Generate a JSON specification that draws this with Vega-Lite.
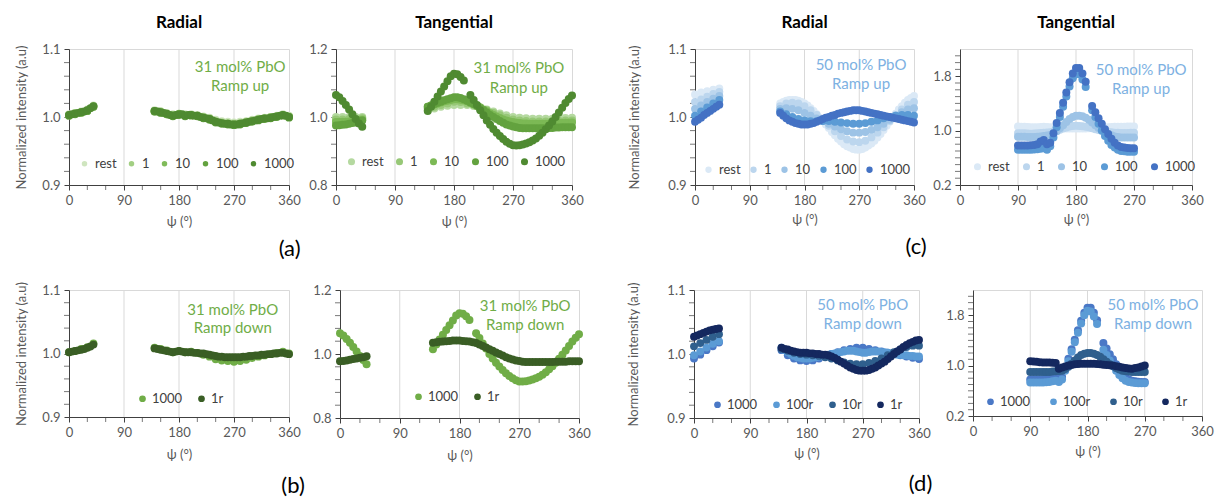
{
"$schema":"https://vega.github.io/schema/vega-lite/v6.json",
"padding":{"left":15,"top":13,"right":2,"bottom":1},
"background":"white",
"config":{
 "font":"Lato",
 "view":{"stroke":"#d9d9d9"},
 "axis":{"domainColor":"#404040","tickColor":"#404040","tickSize":5,"labelPadding":4,"labelColor":"#595959","labelFontSize":13,"titleColor":"#595959","titleFontSize":13,"titleFontWeight":"normal","labelFont":"Lato","titleFont":"Lato","grid":false},
 "legend":{"labelFont":"Lato","labelColor":"#404040","labelFontSize":13,"symbolStrokeWidth":0},
 "rule":{"color":"#d9d9d9","strokeWidth":1},
 "tick":{"color":"#404040","thickness":1}
},
"datasets":{
"grid":[{"g":90},{"g":180},{"g":270}],
"mx":[{"m":30},{"m":60},{"m":120},{"m":150},{"m":210},{"m":240},{"m":300},{"m":330}],
"yr":[{"v":0.92},{"v":0.94},{"v":0.96},{"v":0.98},{"v":1.02},{"v":1.04},{"v":1.06},{"v":1.08}],
"ya":[{"v":0.84},{"v":0.88},{"v":0.92},{"v":0.96},{"v":1.04},{"v":1.08},{"v":1.12},{"v":1.16}],
"yc":[{"v":0.3},{"v":0.4},{"v":0.5},{"v":0.6},{"v":0.7},{"v":0.8},{"v":0.9},{"v":1.1},{"v":1.2},{"v":1.3},{"v":1.4},{"v":1.5},{"v":1.6},{"v":1.7},{"v":1.9},{"v":2.0},{"v":2.1}],
"a1":[
{"s":"rest","x":0,"y":1.004},{"s":"rest","x":10,"y":1.006},{"s":"rest","x":20,"y":1.008},{"s":"rest","x":30,"y":1.011},{"s":"rest","x":40,"y":1.017},{"s":"rest","x":140,"y":1.01},{"s":"rest","x":150,"y":1.008},{"s":"rest","x":160,"y":1.006},{"s":"rest","x":170,"y":1.004},{"s":"rest","x":180,"y":1.005},{"s":"rest","x":190,"y":1.004},{"s":"rest","x":200,"y":1.004},{"s":"rest","x":210,"y":1.003},{"s":"rest","x":220,"y":1.001},{"s":"rest","x":230,"y":0.999},{"s":"rest","x":240,"y":0.996},{"s":"rest","x":250,"y":0.994},{"s":"rest","x":260,"y":0.993},{"s":"rest","x":270,"y":0.992},{"s":"rest","x":280,"y":0.993},{"s":"rest","x":290,"y":0.994},{"s":"rest","x":300,"y":0.996},{"s":"rest","x":310,"y":0.998},{"s":"rest","x":320,"y":0.999},{"s":"rest","x":330,"y":1.0},{"s":"rest","x":340,"y":1.002},{"s":"rest","x":350,"y":1.004},{"s":"rest","x":360,"y":1.002},
{"s":"1","x":0,"y":1.003},{"s":"1","x":10,"y":1.006},{"s":"1","x":20,"y":1.007},{"s":"1","x":30,"y":1.01},{"s":"1","x":40,"y":1.016},{"s":"1","x":140,"y":1.009},{"s":"1","x":150,"y":1.008},{"s":"1","x":160,"y":1.005},{"s":"1","x":170,"y":1.003},{"s":"1","x":180,"y":1.005},{"s":"1","x":190,"y":1.003},{"s":"1","x":200,"y":1.003},{"s":"1","x":210,"y":1.002},{"s":"1","x":220,"y":1.0},{"s":"1","x":230,"y":0.998},{"s":"1","x":240,"y":0.994},{"s":"1","x":250,"y":0.992},{"s":"1","x":260,"y":0.991},{"s":"1","x":270,"y":0.99},{"s":"1","x":280,"y":0.991},{"s":"1","x":290,"y":0.993},{"s":"1","x":300,"y":0.995},{"s":"1","x":310,"y":0.997},{"s":"1","x":320,"y":0.998},{"s":"1","x":330,"y":1.0},{"s":"1","x":340,"y":1.001},{"s":"1","x":350,"y":1.003},{"s":"1","x":360,"y":1.001},
{"s":"10","x":0,"y":1.002},{"s":"10","x":10,"y":1.005},{"s":"10","x":20,"y":1.006},{"s":"10","x":30,"y":1.009},{"s":"10","x":40,"y":1.015},{"s":"10","x":140,"y":1.008},{"s":"10","x":150,"y":1.007},{"s":"10","x":160,"y":1.004},{"s":"10","x":170,"y":1.002},{"s":"10","x":180,"y":1.004},{"s":"10","x":190,"y":1.002},{"s":"10","x":200,"y":1.003},{"s":"10","x":210,"y":1.002},{"s":"10","x":220,"y":0.999},{"s":"10","x":230,"y":0.997},{"s":"10","x":240,"y":0.993},{"s":"10","x":250,"y":0.991},{"s":"10","x":260,"y":0.99},{"s":"10","x":270,"y":0.989},{"s":"10","x":280,"y":0.99},{"s":"10","x":290,"y":0.992},{"s":"10","x":300,"y":0.994},{"s":"10","x":310,"y":0.996},{"s":"10","x":320,"y":0.998},{"s":"10","x":330,"y":0.999},{"s":"10","x":340,"y":1.001},{"s":"10","x":350,"y":1.003},{"s":"10","x":360,"y":1.0},
{"s":"100","x":0,"y":1.002},{"s":"100","x":10,"y":1.004},{"s":"100","x":20,"y":1.007},{"s":"100","x":30,"y":1.009},{"s":"100","x":40,"y":1.015},{"s":"100","x":140,"y":1.008},{"s":"100","x":150,"y":1.006},{"s":"100","x":160,"y":1.004},{"s":"100","x":170,"y":1.001},{"s":"100","x":180,"y":1.003},{"s":"100","x":190,"y":1.001},{"s":"100","x":200,"y":1.002},{"s":"100","x":210,"y":1.001},{"s":"100","x":220,"y":0.998},{"s":"100","x":230,"y":0.996},{"s":"100","x":240,"y":0.992},{"s":"100","x":250,"y":0.99},{"s":"100","x":260,"y":0.989},{"s":"100","x":270,"y":0.988},{"s":"100","x":280,"y":0.989},{"s":"100","x":290,"y":0.991},{"s":"100","x":300,"y":0.993},{"s":"100","x":310,"y":0.995},{"s":"100","x":320,"y":0.997},{"s":"100","x":330,"y":0.998},{"s":"100","x":340,"y":1.0},{"s":"100","x":350,"y":1.002},{"s":"100","x":360,"y":0.999},
{"s":"1000","x":0,"y":1.003},{"s":"1000","x":5,"y":1.004},{"s":"1000","x":10,"y":1.005},{"s":"1000","x":15,"y":1.006},{"s":"1000","x":20,"y":1.007},{"s":"1000","x":25,"y":1.008},{"s":"1000","x":30,"y":1.01},{"s":"1000","x":35,"y":1.013},{"s":"1000","x":40,"y":1.016},{"s":"1000","x":140,"y":1.009},{"s":"1000","x":145,"y":1.008},{"s":"1000","x":150,"y":1.007},{"s":"1000","x":155,"y":1.006},{"s":"1000","x":160,"y":1.005},{"s":"1000","x":165,"y":1.003},{"s":"1000","x":170,"y":1.002},{"s":"1000","x":175,"y":1.003},{"s":"1000","x":180,"y":1.004},{"s":"1000","x":185,"y":1.004},{"s":"1000","x":190,"y":1.002},{"s":"1000","x":195,"y":1.003},{"s":"1000","x":200,"y":1.003},{"s":"1000","x":205,"y":1.002},{"s":"1000","x":210,"y":1.002},{"s":"1000","x":215,"y":1.0},{"s":"1000","x":220,"y":0.999},{"s":"1000","x":225,"y":0.998},{"s":"1000","x":230,"y":0.997},{"s":"1000","x":235,"y":0.995},{"s":"1000","x":240,"y":0.993},{"s":"1000","x":245,"y":0.992},{"s":"1000","x":250,"y":0.991},{"s":"1000","x":255,"y":0.99},{"s":"1000","x":260,"y":0.99},{"s":"1000","x":265,"y":0.989},{"s":"1000","x":270,"y":0.989},{"s":"1000","x":275,"y":0.989},{"s":"1000","x":280,"y":0.99},{"s":"1000","x":285,"y":0.991},{"s":"1000","x":290,"y":0.992},{"s":"1000","x":295,"y":0.993},{"s":"1000","x":300,"y":0.994},{"s":"1000","x":305,"y":0.995},{"s":"1000","x":310,"y":0.996},{"s":"1000","x":315,"y":0.997},{"s":"1000","x":320,"y":0.998},{"s":"1000","x":325,"y":0.998},{"s":"1000","x":330,"y":0.999},{"s":"1000","x":335,"y":1.0},{"s":"1000","x":340,"y":1.001},{"s":"1000","x":345,"y":1.002},{"s":"1000","x":350,"y":1.003},{"s":"1000","x":355,"y":1.002},{"s":"1000","x":360,"y":1.0}
],
"a2":[
{"s":"rest","x":0,"y":1.0},{"s":"rest","x":10,"y":1.0},{"s":"rest","x":20,"y":1.0},{"s":"rest","x":30,"y":1.0},{"s":"rest","x":40,"y":1.0},{"s":"rest","x":140,"y":1.02},{"s":"rest","x":150,"y":1.025},{"s":"rest","x":160,"y":1.03},{"s":"rest","x":170,"y":1.033},{"s":"rest","x":180,"y":1.035},{"s":"rest","x":190,"y":1.035},{"s":"rest","x":200,"y":1.035},{"s":"rest","x":210,"y":1.032},{"s":"rest","x":220,"y":1.028},{"s":"rest","x":230,"y":1.022},{"s":"rest","x":240,"y":1.016},{"s":"rest","x":250,"y":1.01},{"s":"rest","x":260,"y":1.005},{"s":"rest","x":270,"y":1.0},{"s":"rest","x":280,"y":0.998},{"s":"rest","x":290,"y":0.996},{"s":"rest","x":300,"y":0.995},{"s":"rest","x":310,"y":0.995},{"s":"rest","x":320,"y":0.995},{"s":"rest","x":330,"y":0.995},{"s":"rest","x":340,"y":0.996},{"s":"rest","x":350,"y":0.997},{"s":"rest","x":360,"y":0.998},
{"s":"1","x":0,"y":0.993},{"s":"1","x":10,"y":0.993},{"s":"1","x":20,"y":0.994},{"s":"1","x":30,"y":0.995},{"s":"1","x":40,"y":0.996},{"s":"1","x":140,"y":1.025},{"s":"1","x":150,"y":1.03},{"s":"1","x":160,"y":1.035},{"s":"1","x":170,"y":1.04},{"s":"1","x":180,"y":1.045},{"s":"1","x":190,"y":1.044},{"s":"1","x":200,"y":1.04},{"s":"1","x":210,"y":1.035},{"s":"1","x":220,"y":1.028},{"s":"1","x":230,"y":1.02},{"s":"1","x":240,"y":1.012},{"s":"1","x":250,"y":1.005},{"s":"1","x":260,"y":0.998},{"s":"1","x":270,"y":0.993},{"s":"1","x":280,"y":0.99},{"s":"1","x":290,"y":0.988},{"s":"1","x":300,"y":0.987},{"s":"1","x":310,"y":0.987},{"s":"1","x":320,"y":0.987},{"s":"1","x":330,"y":0.988},{"s":"1","x":340,"y":0.989},{"s":"1","x":350,"y":0.99},{"s":"1","x":360,"y":0.99},
{"s":"10","x":0,"y":0.985},{"s":"10","x":5,"y":0.985},{"s":"10","x":10,"y":0.986},{"s":"10","x":15,"y":0.986},{"s":"10","x":20,"y":0.987},{"s":"10","x":25,"y":0.988},{"s":"10","x":30,"y":0.99},{"s":"10","x":35,"y":0.991},{"s":"10","x":40,"y":0.992},{"s":"10","x":140,"y":1.03},{"s":"10","x":145,"y":1.034},{"s":"10","x":150,"y":1.037},{"s":"10","x":155,"y":1.04},{"s":"10","x":160,"y":1.043},{"s":"10","x":165,"y":1.046},{"s":"10","x":170,"y":1.048},{"s":"10","x":175,"y":1.05},{"s":"10","x":180,"y":1.052},{"s":"10","x":185,"y":1.052},{"s":"10","x":190,"y":1.051},{"s":"10","x":195,"y":1.049},{"s":"10","x":200,"y":1.046},{"s":"10","x":205,"y":1.042},{"s":"10","x":210,"y":1.038},{"s":"10","x":215,"y":1.033},{"s":"10","x":220,"y":1.028},{"s":"10","x":225,"y":1.022},{"s":"10","x":230,"y":1.017},{"s":"10","x":235,"y":1.011},{"s":"10","x":240,"y":1.006},{"s":"10","x":245,"y":1.001},{"s":"10","x":250,"y":0.997},{"s":"10","x":255,"y":0.993},{"s":"10","x":260,"y":0.99},{"s":"10","x":265,"y":0.987},{"s":"10","x":270,"y":0.985},{"s":"10","x":275,"y":0.983},{"s":"10","x":280,"y":0.982},{"s":"10","x":285,"y":0.981},{"s":"10","x":290,"y":0.981},{"s":"10","x":295,"y":0.98},{"s":"10","x":300,"y":0.98},{"s":"10","x":305,"y":0.98},{"s":"10","x":310,"y":0.98},{"s":"10","x":315,"y":0.98},{"s":"10","x":320,"y":0.98},{"s":"10","x":325,"y":0.98},{"s":"10","x":330,"y":0.981},{"s":"10","x":335,"y":0.981},{"s":"10","x":340,"y":0.982},{"s":"10","x":345,"y":0.982},{"s":"10","x":350,"y":0.983},{"s":"10","x":355,"y":0.983},{"s":"10","x":360,"y":0.984},
{"s":"100","x":0,"y":0.975},{"s":"100","x":5,"y":0.976},{"s":"100","x":10,"y":0.977},{"s":"100","x":15,"y":0.978},{"s":"100","x":20,"y":0.98},{"s":"100","x":25,"y":0.982},{"s":"100","x":30,"y":0.984},{"s":"100","x":35,"y":0.987},{"s":"100","x":40,"y":0.99},{"s":"100","x":140,"y":1.03},{"s":"100","x":145,"y":1.034},{"s":"100","x":150,"y":1.038},{"s":"100","x":155,"y":1.042},{"s":"100","x":160,"y":1.045},{"s":"100","x":165,"y":1.049},{"s":"100","x":170,"y":1.052},{"s":"100","x":175,"y":1.055},{"s":"100","x":180,"y":1.058},{"s":"100","x":185,"y":1.058},{"s":"100","x":190,"y":1.056},{"s":"100","x":195,"y":1.052},{"s":"100","x":200,"y":1.048},{"s":"100","x":205,"y":1.043},{"s":"100","x":210,"y":1.038},{"s":"100","x":215,"y":1.032},{"s":"100","x":220,"y":1.026},{"s":"100","x":225,"y":1.02},{"s":"100","x":230,"y":1.013},{"s":"100","x":235,"y":1.006},{"s":"100","x":240,"y":1.0},{"s":"100","x":245,"y":0.994},{"s":"100","x":250,"y":0.988},{"s":"100","x":255,"y":0.983},{"s":"100","x":260,"y":0.978},{"s":"100","x":265,"y":0.975},{"s":"100","x":270,"y":0.972},{"s":"100","x":275,"y":0.97},{"s":"100","x":280,"y":0.968},{"s":"100","x":285,"y":0.967},{"s":"100","x":290,"y":0.967},{"s":"100","x":295,"y":0.967},{"s":"100","x":300,"y":0.967},{"s":"100","x":305,"y":0.967},{"s":"100","x":310,"y":0.967},{"s":"100","x":315,"y":0.967},{"s":"100","x":320,"y":0.967},{"s":"100","x":325,"y":0.968},{"s":"100","x":330,"y":0.968},{"s":"100","x":335,"y":0.969},{"s":"100","x":340,"y":0.969},{"s":"100","x":345,"y":0.97},{"s":"100","x":350,"y":0.97},{"s":"100","x":355,"y":0.97},{"s":"100","x":360,"y":0.97},
{"s":"1000","x":0,"y":1.065},{"s":"1000","x":5,"y":1.058},{"s":"1000","x":10,"y":1.047},{"s":"1000","x":15,"y":1.035},{"s":"1000","x":20,"y":1.022},{"s":"1000","x":25,"y":1.008},{"s":"1000","x":30,"y":0.994},{"s":"1000","x":35,"y":0.981},{"s":"1000","x":40,"y":0.971},{"s":"1000","x":140,"y":1.018},{"s":"1000","x":145,"y":1.03},{"s":"1000","x":150,"y":1.045},{"s":"1000","x":155,"y":1.06},{"s":"1000","x":160,"y":1.075},{"s":"1000","x":165,"y":1.09},{"s":"1000","x":170,"y":1.105},{"s":"1000","x":175,"y":1.12},{"s":"1000","x":180,"y":1.127},{"s":"1000","x":185,"y":1.126},{"s":"1000","x":190,"y":1.118},{"s":"1000","x":195,"y":1.107},{"s":"1000","x":205,"y":1.065},{"s":"1000","x":210,"y":1.05},{"s":"1000","x":215,"y":1.035},{"s":"1000","x":220,"y":1.02},{"s":"1000","x":225,"y":1.005},{"s":"1000","x":230,"y":0.99},{"s":"1000","x":235,"y":0.977},{"s":"1000","x":240,"y":0.965},{"s":"1000","x":245,"y":0.954},{"s":"1000","x":250,"y":0.944},{"s":"1000","x":255,"y":0.935},{"s":"1000","x":260,"y":0.927},{"s":"1000","x":265,"y":0.921},{"s":"1000","x":270,"y":0.917},{"s":"1000","x":275,"y":0.916},{"s":"1000","x":280,"y":0.917},{"s":"1000","x":285,"y":0.919},{"s":"1000","x":290,"y":0.922},{"s":"1000","x":295,"y":0.926},{"s":"1000","x":300,"y":0.931},{"s":"1000","x":305,"y":0.937},{"s":"1000","x":310,"y":0.945},{"s":"1000","x":315,"y":0.954},{"s":"1000","x":320,"y":0.964},{"s":"1000","x":325,"y":0.975},{"s":"1000","x":330,"y":0.987},{"s":"1000","x":335,"y":1.0},{"s":"1000","x":340,"y":1.013},{"s":"1000","x":345,"y":1.027},{"s":"1000","x":350,"y":1.041},{"s":"1000","x":355,"y":1.053},{"s":"1000","x":360,"y":1.063}
],
"b1":[
{"s":"1000","x":0,"y":1.002},{"s":"1000","x":10,"y":1.004},{"s":"1000","x":20,"y":1.007},{"s":"1000","x":30,"y":1.01},{"s":"1000","x":40,"y":1.016},{"s":"1000","x":140,"y":1.009},{"s":"1000","x":150,"y":1.007},{"s":"1000","x":160,"y":1.005},{"s":"1000","x":170,"y":1.002},{"s":"1000","x":180,"y":1.004},{"s":"1000","x":190,"y":1.002},{"s":"1000","x":200,"y":1.003},{"s":"1000","x":210,"y":1.001},{"s":"1000","x":220,"y":0.998},{"s":"1000","x":230,"y":0.995},{"s":"1000","x":240,"y":0.991},{"s":"1000","x":250,"y":0.989},{"s":"1000","x":260,"y":0.988},{"s":"1000","x":270,"y":0.987},{"s":"1000","x":280,"y":0.988},{"s":"1000","x":290,"y":0.99},{"s":"1000","x":300,"y":0.993},{"s":"1000","x":310,"y":0.995},{"s":"1000","x":320,"y":0.997},{"s":"1000","x":330,"y":0.999},{"s":"1000","x":340,"y":1.001},{"s":"1000","x":350,"y":1.003},{"s":"1000","x":360,"y":1.0},
{"s":"1r","x":0,"y":1.002},{"s":"1r","x":5,"y":1.003},{"s":"1r","x":10,"y":1.004},{"s":"1r","x":15,"y":1.005},{"s":"1r","x":20,"y":1.006},{"s":"1r","x":25,"y":1.007},{"s":"1r","x":30,"y":1.009},{"s":"1r","x":35,"y":1.011},{"s":"1r","x":40,"y":1.014},{"s":"1r","x":140,"y":1.008},{"s":"1r","x":145,"y":1.007},{"s":"1r","x":150,"y":1.006},{"s":"1r","x":155,"y":1.005},{"s":"1r","x":160,"y":1.004},{"s":"1r","x":165,"y":1.003},{"s":"1r","x":170,"y":1.002},{"s":"1r","x":175,"y":1.003},{"s":"1r","x":180,"y":1.004},{"s":"1r","x":185,"y":1.003},{"s":"1r","x":190,"y":1.002},{"s":"1r","x":195,"y":1.002},{"s":"1r","x":200,"y":1.002},{"s":"1r","x":205,"y":1.001},{"s":"1r","x":210,"y":1.001},{"s":"1r","x":215,"y":1.0},{"s":"1r","x":220,"y":1.0},{"s":"1r","x":225,"y":0.999},{"s":"1r","x":230,"y":0.998},{"s":"1r","x":235,"y":0.997},{"s":"1r","x":240,"y":0.996},{"s":"1r","x":245,"y":0.995},{"s":"1r","x":250,"y":0.995},{"s":"1r","x":255,"y":0.994},{"s":"1r","x":260,"y":0.994},{"s":"1r","x":265,"y":0.994},{"s":"1r","x":270,"y":0.994},{"s":"1r","x":275,"y":0.994},{"s":"1r","x":280,"y":0.994},{"s":"1r","x":285,"y":0.995},{"s":"1r","x":290,"y":0.995},{"s":"1r","x":295,"y":0.996},{"s":"1r","x":300,"y":0.996},{"s":"1r","x":305,"y":0.997},{"s":"1r","x":310,"y":0.997},{"s":"1r","x":315,"y":0.998},{"s":"1r","x":320,"y":0.998},{"s":"1r","x":325,"y":0.999},{"s":"1r","x":330,"y":0.999},{"s":"1r","x":335,"y":1.0},{"s":"1r","x":340,"y":1.0},{"s":"1r","x":345,"y":1.001},{"s":"1r","x":350,"y":1.001},{"s":"1r","x":355,"y":1.0},{"s":"1r","x":360,"y":0.999}
],
"b2":[
{"s":"1000","x":0,"y":1.065},{"s":"1000","x":5,"y":1.058},{"s":"1000","x":10,"y":1.047},{"s":"1000","x":15,"y":1.035},{"s":"1000","x":20,"y":1.022},{"s":"1000","x":25,"y":1.008},{"s":"1000","x":30,"y":0.994},{"s":"1000","x":35,"y":0.981},{"s":"1000","x":40,"y":0.968},{"s":"1000","x":140,"y":1.015},{"s":"1000","x":145,"y":1.03},{"s":"1000","x":150,"y":1.045},{"s":"1000","x":155,"y":1.06},{"s":"1000","x":160,"y":1.075},{"s":"1000","x":165,"y":1.09},{"s":"1000","x":170,"y":1.105},{"s":"1000","x":175,"y":1.12},{"s":"1000","x":180,"y":1.127},{"s":"1000","x":185,"y":1.126},{"s":"1000","x":190,"y":1.118},{"s":"1000","x":195,"y":1.106},{"s":"1000","x":205,"y":1.065},{"s":"1000","x":210,"y":1.05},{"s":"1000","x":215,"y":1.033},{"s":"1000","x":220,"y":1.017},{"s":"1000","x":225,"y":1.0},{"s":"1000","x":230,"y":0.986},{"s":"1000","x":235,"y":0.973},{"s":"1000","x":240,"y":0.961},{"s":"1000","x":245,"y":0.95},{"s":"1000","x":250,"y":0.94},{"s":"1000","x":255,"y":0.931},{"s":"1000","x":260,"y":0.924},{"s":"1000","x":265,"y":0.918},{"s":"1000","x":270,"y":0.914},{"s":"1000","x":275,"y":0.914},{"s":"1000","x":280,"y":0.915},{"s":"1000","x":285,"y":0.917},{"s":"1000","x":290,"y":0.92},{"s":"1000","x":295,"y":0.924},{"s":"1000","x":300,"y":0.929},{"s":"1000","x":305,"y":0.935},{"s":"1000","x":310,"y":0.943},{"s":"1000","x":315,"y":0.952},{"s":"1000","x":320,"y":0.962},{"s":"1000","x":325,"y":0.973},{"s":"1000","x":330,"y":0.985},{"s":"1000","x":335,"y":0.998},{"s":"1000","x":340,"y":1.011},{"s":"1000","x":345,"y":1.025},{"s":"1000","x":350,"y":1.039},{"s":"1000","x":355,"y":1.051},{"s":"1000","x":360,"y":1.062},
{"s":"1r","x":0,"y":0.977},{"s":"1r","x":5,"y":0.978},{"s":"1r","x":10,"y":0.98},{"s":"1r","x":15,"y":0.982},{"s":"1r","x":20,"y":0.984},{"s":"1r","x":25,"y":0.986},{"s":"1r","x":30,"y":0.988},{"s":"1r","x":35,"y":0.99},{"s":"1r","x":40,"y":0.993},{"s":"1r","x":140,"y":1.035},{"s":"1r","x":145,"y":1.037},{"s":"1r","x":150,"y":1.038},{"s":"1r","x":155,"y":1.039},{"s":"1r","x":160,"y":1.04},{"s":"1r","x":165,"y":1.041},{"s":"1r","x":170,"y":1.042},{"s":"1r","x":175,"y":1.042},{"s":"1r","x":180,"y":1.042},{"s":"1r","x":185,"y":1.041},{"s":"1r","x":190,"y":1.04},{"s":"1r","x":195,"y":1.039},{"s":"1r","x":200,"y":1.037},{"s":"1r","x":205,"y":1.034},{"s":"1r","x":210,"y":1.03},{"s":"1r","x":215,"y":1.025},{"s":"1r","x":220,"y":1.02},{"s":"1r","x":225,"y":1.015},{"s":"1r","x":230,"y":1.01},{"s":"1r","x":235,"y":1.005},{"s":"1r","x":240,"y":1.0},{"s":"1r","x":245,"y":0.995},{"s":"1r","x":250,"y":0.99},{"s":"1r","x":255,"y":0.986},{"s":"1r","x":260,"y":0.983},{"s":"1r","x":265,"y":0.98},{"s":"1r","x":270,"y":0.978},{"s":"1r","x":275,"y":0.976},{"s":"1r","x":280,"y":0.975},{"s":"1r","x":285,"y":0.975},{"s":"1r","x":290,"y":0.975},{"s":"1r","x":295,"y":0.975},{"s":"1r","x":300,"y":0.975},{"s":"1r","x":305,"y":0.975},{"s":"1r","x":310,"y":0.975},{"s":"1r","x":315,"y":0.975},{"s":"1r","x":320,"y":0.975},{"s":"1r","x":325,"y":0.976},{"s":"1r","x":330,"y":0.976},{"s":"1r","x":335,"y":0.976},{"s":"1r","x":340,"y":0.976},{"s":"1r","x":345,"y":0.977},{"s":"1r","x":350,"y":0.977},{"s":"1r","x":355,"y":0.977},{"s":"1r","x":360,"y":0.977}
],
"c1":[
{"s":"rest","x":0,"y":1.033},{"s":"rest","x":10,"y":1.036},{"s":"rest","x":20,"y":1.038},{"s":"rest","x":30,"y":1.04},{"s":"rest","x":40,"y":1.042},{"s":"rest","x":140,"y":1.02},{"s":"rest","x":145,"y":1.022},{"s":"rest","x":150,"y":1.024},{"s":"rest","x":155,"y":1.025},{"s":"rest","x":160,"y":1.025},{"s":"rest","x":165,"y":1.025},{"s":"rest","x":170,"y":1.024},{"s":"rest","x":175,"y":1.022},{"s":"rest","x":180,"y":1.02},{"s":"rest","x":185,"y":1.017},{"s":"rest","x":190,"y":1.013},{"s":"rest","x":195,"y":1.009},{"s":"rest","x":200,"y":1.004},{"s":"rest","x":205,"y":0.999},{"s":"rest","x":210,"y":0.994},{"s":"rest","x":215,"y":0.989},{"s":"rest","x":220,"y":0.984},{"s":"rest","x":225,"y":0.978},{"s":"rest","x":230,"y":0.973},{"s":"rest","x":235,"y":0.968},{"s":"rest","x":240,"y":0.964},{"s":"rest","x":245,"y":0.96},{"s":"rest","x":250,"y":0.957},{"s":"rest","x":255,"y":0.955},{"s":"rest","x":260,"y":0.953},{"s":"rest","x":265,"y":0.952},{"s":"rest","x":270,"y":0.952},{"s":"rest","x":275,"y":0.953},{"s":"rest","x":280,"y":0.955},{"s":"rest","x":285,"y":0.958},{"s":"rest","x":290,"y":0.961},{"s":"rest","x":295,"y":0.965},{"s":"rest","x":300,"y":0.97},{"s":"rest","x":305,"y":0.975},{"s":"rest","x":310,"y":0.981},{"s":"rest","x":315,"y":0.987},{"s":"rest","x":320,"y":0.993},{"s":"rest","x":325,"y":0.999},{"s":"rest","x":330,"y":1.005},{"s":"rest","x":335,"y":1.011},{"s":"rest","x":340,"y":1.016},{"s":"rest","x":345,"y":1.021},{"s":"rest","x":350,"y":1.025},{"s":"rest","x":355,"y":1.028},{"s":"rest","x":360,"y":1.031},
{"s":"1","x":0,"y":1.022},{"s":"1","x":10,"y":1.026},{"s":"1","x":20,"y":1.03},{"s":"1","x":30,"y":1.034},{"s":"1","x":40,"y":1.037},{"s":"1","x":140,"y":1.016},{"s":"1","x":150,"y":1.02},{"s":"1","x":160,"y":1.021},{"s":"1","x":170,"y":1.02},{"s":"1","x":180,"y":1.016},{"s":"1","x":190,"y":1.01},{"s":"1","x":200,"y":1.003},{"s":"1","x":210,"y":0.995},{"s":"1","x":220,"y":0.987},{"s":"1","x":230,"y":0.979},{"s":"1","x":240,"y":0.972},{"s":"1","x":250,"y":0.967},{"s":"1","x":260,"y":0.964},{"s":"1","x":270,"y":0.963},{"s":"1","x":280,"y":0.965},{"s":"1","x":290,"y":0.97},{"s":"1","x":300,"y":0.977},{"s":"1","x":310,"y":0.985},{"s":"1","x":320,"y":0.994},{"s":"1","x":330,"y":1.003},{"s":"1","x":340,"y":1.011},{"s":"1","x":350,"y":1.018},{"s":"1","x":360,"y":1.022},
{"s":"10","x":0,"y":1.012},{"s":"10","x":10,"y":1.017},{"s":"10","x":20,"y":1.022},{"s":"10","x":30,"y":1.027},{"s":"10","x":40,"y":1.031},{"s":"10","x":140,"y":1.012},{"s":"10","x":150,"y":1.013},{"s":"10","x":160,"y":1.012},{"s":"10","x":170,"y":1.01},{"s":"10","x":180,"y":1.006},{"s":"10","x":190,"y":1.002},{"s":"10","x":200,"y":0.998},{"s":"10","x":210,"y":0.994},{"s":"10","x":220,"y":0.99},{"s":"10","x":230,"y":0.986},{"s":"10","x":240,"y":0.982},{"s":"10","x":250,"y":0.979},{"s":"10","x":260,"y":0.977},{"s":"10","x":270,"y":0.977},{"s":"10","x":280,"y":0.978},{"s":"10","x":290,"y":0.981},{"s":"10","x":300,"y":0.985},{"s":"10","x":310,"y":0.99},{"s":"10","x":320,"y":0.996},{"s":"10","x":330,"y":1.002},{"s":"10","x":340,"y":1.007},{"s":"10","x":350,"y":1.011},{"s":"10","x":360,"y":1.013},
{"s":"100","x":0,"y":1.002},{"s":"100","x":10,"y":1.008},{"s":"100","x":20,"y":1.014},{"s":"100","x":30,"y":1.02},{"s":"100","x":40,"y":1.025},{"s":"100","x":140,"y":1.008},{"s":"100","x":150,"y":1.004},{"s":"100","x":160,"y":1.0},{"s":"100","x":170,"y":0.997},{"s":"100","x":180,"y":0.995},{"s":"100","x":190,"y":0.994},{"s":"100","x":200,"y":0.994},{"s":"100","x":210,"y":0.994},{"s":"100","x":220,"y":0.994},{"s":"100","x":230,"y":0.993},{"s":"100","x":240,"y":0.992},{"s":"100","x":250,"y":0.991},{"s":"100","x":260,"y":0.99},{"s":"100","x":270,"y":0.99},{"s":"100","x":280,"y":0.991},{"s":"100","x":290,"y":0.993},{"s":"100","x":300,"y":0.995},{"s":"100","x":310,"y":0.998},{"s":"100","x":320,"y":1.0},{"s":"100","x":330,"y":1.002},{"s":"100","x":340,"y":1.003},{"s":"100","x":350,"y":1.003},{"s":"100","x":360,"y":1.002},
{"s":"1000","x":0,"y":0.993},{"s":"1000","x":5,"y":0.996},{"s":"1000","x":10,"y":0.999},{"s":"1000","x":15,"y":1.003},{"s":"1000","x":20,"y":1.006},{"s":"1000","x":25,"y":1.009},{"s":"1000","x":30,"y":1.012},{"s":"1000","x":35,"y":1.015},{"s":"1000","x":40,"y":1.018},{"s":"1000","x":140,"y":1.006},{"s":"1000","x":145,"y":1.002},{"s":"1000","x":150,"y":0.998},{"s":"1000","x":155,"y":0.995},{"s":"1000","x":160,"y":0.993},{"s":"1000","x":165,"y":0.991},{"s":"1000","x":170,"y":0.99},{"s":"1000","x":175,"y":0.989},{"s":"1000","x":180,"y":0.989},{"s":"1000","x":185,"y":0.989},{"s":"1000","x":190,"y":0.99},{"s":"1000","x":195,"y":0.991},{"s":"1000","x":200,"y":0.993},{"s":"1000","x":205,"y":0.995},{"s":"1000","x":210,"y":0.997},{"s":"1000","x":215,"y":0.999},{"s":"1000","x":220,"y":1.0},{"s":"1000","x":225,"y":1.002},{"s":"1000","x":230,"y":1.003},{"s":"1000","x":235,"y":1.005},{"s":"1000","x":240,"y":1.006},{"s":"1000","x":245,"y":1.007},{"s":"1000","x":250,"y":1.008},{"s":"1000","x":255,"y":1.009},{"s":"1000","x":260,"y":1.01},{"s":"1000","x":265,"y":1.01},{"s":"1000","x":270,"y":1.01},{"s":"1000","x":275,"y":1.009},{"s":"1000","x":280,"y":1.008},{"s":"1000","x":285,"y":1.007},{"s":"1000","x":290,"y":1.006},{"s":"1000","x":295,"y":1.005},{"s":"1000","x":300,"y":1.004},{"s":"1000","x":305,"y":1.003},{"s":"1000","x":310,"y":1.002},{"s":"1000","x":315,"y":1.001},{"s":"1000","x":320,"y":1.0},{"s":"1000","x":325,"y":0.999},{"s":"1000","x":330,"y":0.998},{"s":"1000","x":335,"y":0.997},{"s":"1000","x":340,"y":0.996},{"s":"1000","x":345,"y":0.995},{"s":"1000","x":350,"y":0.994},{"s":"1000","x":355,"y":0.993},{"s":"1000","x":360,"y":0.992}
],
"c2":[
{"s":"rest","x":90,"y":1.06},{"s":"rest","x":95,"y":1.058},{"s":"rest","x":100,"y":1.055},{"s":"rest","x":105,"y":1.052},{"s":"rest","x":110,"y":1.05},{"s":"rest","x":115,"y":1.05},{"s":"rest","x":120,"y":1.05},{"s":"rest","x":125,"y":1.052},{"s":"rest","x":130,"y":1.055},{"s":"rest","x":135,"y":1.052},{"s":"rest","x":140,"y":1.05},{"s":"rest","x":145,"y":1.045},{"s":"rest","x":150,"y":1.04},{"s":"rest","x":155,"y":1.037},{"s":"rest","x":160,"y":1.035},{"s":"rest","x":165,"y":1.032},{"s":"rest","x":170,"y":1.03},{"s":"rest","x":175,"y":1.03},{"s":"rest","x":180,"y":1.03},{"s":"rest","x":185,"y":1.03},{"s":"rest","x":190,"y":1.03},{"s":"rest","x":195,"y":1.032},{"s":"rest","x":200,"y":1.035},{"s":"rest","x":205,"y":1.037},{"s":"rest","x":210,"y":1.04},{"s":"rest","x":215,"y":1.042},{"s":"rest","x":220,"y":1.045},{"s":"rest","x":225,"y":1.047},{"s":"rest","x":230,"y":1.05},{"s":"rest","x":235,"y":1.052},{"s":"rest","x":240,"y":1.055},{"s":"rest","x":245,"y":1.055},{"s":"rest","x":250,"y":1.055},{"s":"rest","x":255,"y":1.058},{"s":"rest","x":260,"y":1.06},{"s":"rest","x":265,"y":1.06},{"s":"rest","x":270,"y":1.06},
{"s":"1","x":90,"y":0.96},{"s":"1","x":95,"y":0.96},{"s":"1","x":100,"y":0.96},{"s":"1","x":105,"y":0.958},{"s":"1","x":110,"y":0.955},{"s":"1","x":115,"y":0.957},{"s":"1","x":120,"y":0.96},{"s":"1","x":125,"y":0.965},{"s":"1","x":130,"y":0.97},{"s":"1","x":135,"y":0.972},{"s":"1","x":140,"y":0.975},{"s":"1","x":145,"y":0.985},{"s":"1","x":150,"y":0.995},{"s":"1","x":155,"y":1.012},{"s":"1","x":160,"y":1.03},{"s":"1","x":165,"y":1.045},{"s":"1","x":170,"y":1.06},{"s":"1","x":175,"y":1.066},{"s":"1","x":180,"y":1.07},{"s":"1","x":185,"y":1.068},{"s":"1","x":190,"y":1.065},{"s":"1","x":195,"y":1.058},{"s":"1","x":200,"y":1.05},{"s":"1","x":205,"y":1.035},{"s":"1","x":210,"y":1.02},{"s":"1","x":215,"y":1.008},{"s":"1","x":220,"y":0.995},{"s":"1","x":225,"y":0.988},{"s":"1","x":230,"y":0.98},{"s":"1","x":235,"y":0.975},{"s":"1","x":240,"y":0.97},{"s":"1","x":245,"y":0.967},{"s":"1","x":250,"y":0.965},{"s":"1","x":255,"y":0.965},{"s":"1","x":260,"y":0.965},{"s":"1","x":265,"y":0.967},{"s":"1","x":270,"y":0.97},
{"s":"10","x":90,"y":0.91},{"s":"10","x":95,"y":0.91},{"s":"10","x":100,"y":0.91},{"s":"10","x":105,"y":0.907},{"s":"10","x":110,"y":0.905},{"s":"10","x":115,"y":0.907},{"s":"10","x":120,"y":0.91},{"s":"10","x":125,"y":0.915},{"s":"10","x":130,"y":0.92},{"s":"10","x":135,"y":0.927},{"s":"10","x":140,"y":0.935},{"s":"10","x":145,"y":0.96},{"s":"10","x":150,"y":0.99},{"s":"10","x":155,"y":1.035},{"s":"10","x":160,"y":1.08},{"s":"10","x":165,"y":1.125},{"s":"10","x":170,"y":1.17},{"s":"10","x":175,"y":1.2},{"s":"10","x":180,"y":1.22},{"s":"10","x":185,"y":1.218},{"s":"10","x":190,"y":1.21},{"s":"10","x":195,"y":1.19},{"s":"10","x":200,"y":1.16},{"s":"10","x":205,"y":1.12},{"s":"10","x":210,"y":1.08},{"s":"10","x":215,"y":1.04},{"s":"10","x":220,"y":1.0},{"s":"10","x":225,"y":0.97},{"s":"10","x":230,"y":0.945},{"s":"10","x":235,"y":0.93},{"s":"10","x":240,"y":0.915},{"s":"10","x":245,"y":0.907},{"s":"10","x":250,"y":0.9},{"s":"10","x":255,"y":0.9},{"s":"10","x":260,"y":0.9},{"s":"10","x":265,"y":0.9},{"s":"10","x":270,"y":0.9},
{"s":"100","x":90,"y":0.72},{"s":"100","x":95,"y":0.72},{"s":"100","x":100,"y":0.72},{"s":"100","x":105,"y":0.72},{"s":"100","x":110,"y":0.72},{"s":"100","x":115,"y":0.722},{"s":"100","x":120,"y":0.725},{"s":"100","x":125,"y":0.732},{"s":"100","x":130,"y":0.74},{"s":"100","x":135,"y":0.72},{"s":"100","x":140,"y":0.77},{"s":"100","x":145,"y":0.9},{"s":"100","x":150,"y":1.05},{"s":"100","x":155,"y":1.2},{"s":"100","x":160,"y":1.35},{"s":"100","x":165,"y":1.5},{"s":"100","x":170,"y":1.65},{"s":"100","x":175,"y":1.77},{"s":"100","x":180,"y":1.83},{"s":"100","x":185,"y":1.83},{"s":"100","x":190,"y":1.75},{"s":"100","x":195,"y":1.64},{"s":"100","x":205,"y":1.3},{"s":"100","x":210,"y":1.2},{"s":"100","x":215,"y":1.1},{"s":"100","x":220,"y":1.0},{"s":"100","x":225,"y":0.92},{"s":"100","x":230,"y":0.85},{"s":"100","x":235,"y":0.79},{"s":"100","x":240,"y":0.75},{"s":"100","x":245,"y":0.72},{"s":"100","x":250,"y":0.7},{"s":"100","x":255,"y":0.695},{"s":"100","x":260,"y":0.69},{"s":"100","x":265,"y":0.69},{"s":"100","x":270,"y":0.69},
{"s":"1000","x":90,"y":0.78},{"s":"1000","x":95,"y":0.78},{"s":"1000","x":100,"y":0.78},{"s":"1000","x":105,"y":0.78},{"s":"1000","x":110,"y":0.785},{"s":"1000","x":115,"y":0.79},{"s":"1000","x":120,"y":0.8},{"s":"1000","x":125,"y":0.84},{"s":"1000","x":130,"y":0.86},{"s":"1000","x":135,"y":0.8},{"s":"1000","x":140,"y":0.82},{"s":"1000","x":145,"y":0.96},{"s":"1000","x":150,"y":1.11},{"s":"1000","x":155,"y":1.26},{"s":"1000","x":160,"y":1.41},{"s":"1000","x":165,"y":1.56},{"s":"1000","x":170,"y":1.71},{"s":"1000","x":175,"y":1.84},{"s":"1000","x":180,"y":1.92},{"s":"1000","x":185,"y":1.92},{"s":"1000","x":190,"y":1.84},{"s":"1000","x":195,"y":1.72},{"s":"1000","x":205,"y":1.36},{"s":"1000","x":210,"y":1.27},{"s":"1000","x":215,"y":1.18},{"s":"1000","x":220,"y":1.1},{"s":"1000","x":225,"y":1.02},{"s":"1000","x":230,"y":0.95},{"s":"1000","x":235,"y":0.88},{"s":"1000","x":240,"y":0.82},{"s":"1000","x":245,"y":0.78},{"s":"1000","x":250,"y":0.76},{"s":"1000","x":255,"y":0.75},{"s":"1000","x":260,"y":0.745},{"s":"1000","x":265,"y":0.74},{"s":"1000","x":270,"y":0.74}
],
"d1":[
{"s":"1000","x":0,"y":0.993},{"s":"1000","x":10,"y":0.999},{"s":"1000","x":20,"y":1.006},{"s":"1000","x":30,"y":1.012},{"s":"1000","x":40,"y":1.018},{"s":"1000","x":140,"y":1.006},{"s":"1000","x":150,"y":0.998},{"s":"1000","x":160,"y":0.993},{"s":"1000","x":170,"y":0.99},{"s":"1000","x":180,"y":0.989},{"s":"1000","x":190,"y":0.99},{"s":"1000","x":200,"y":0.993},{"s":"1000","x":210,"y":0.997},{"s":"1000","x":220,"y":1.0},{"s":"1000","x":230,"y":1.003},{"s":"1000","x":240,"y":1.006},{"s":"1000","x":250,"y":1.008},{"s":"1000","x":260,"y":1.01},{"s":"1000","x":270,"y":1.01},{"s":"1000","x":280,"y":1.008},{"s":"1000","x":290,"y":1.006},{"s":"1000","x":300,"y":1.004},{"s":"1000","x":310,"y":1.002},{"s":"1000","x":320,"y":1.0},{"s":"1000","x":330,"y":0.998},{"s":"1000","x":340,"y":0.996},{"s":"1000","x":350,"y":0.994},{"s":"1000","x":360,"y":0.992},
{"s":"100r","x":0,"y":0.998},{"s":"100r","x":10,"y":1.004},{"s":"100r","x":20,"y":1.01},{"s":"100r","x":30,"y":1.016},{"s":"100r","x":40,"y":1.02},{"s":"100r","x":140,"y":1.01},{"s":"100r","x":145,"y":1.006},{"s":"100r","x":150,"y":1.003},{"s":"100r","x":155,"y":1.0},{"s":"100r","x":160,"y":0.997},{"s":"100r","x":165,"y":0.995},{"s":"100r","x":170,"y":0.994},{"s":"100r","x":175,"y":0.993},{"s":"100r","x":180,"y":0.993},{"s":"100r","x":185,"y":0.993},{"s":"100r","x":190,"y":0.994},{"s":"100r","x":195,"y":0.995},{"s":"100r","x":200,"y":0.996},{"s":"100r","x":205,"y":0.997},{"s":"100r","x":210,"y":0.998},{"s":"100r","x":215,"y":0.999},{"s":"100r","x":220,"y":1.0},{"s":"100r","x":225,"y":1.001},{"s":"100r","x":230,"y":1.002},{"s":"100r","x":235,"y":1.003},{"s":"100r","x":240,"y":1.004},{"s":"100r","x":245,"y":1.005},{"s":"100r","x":250,"y":1.005},{"s":"100r","x":255,"y":1.005},{"s":"100r","x":260,"y":1.004},{"s":"100r","x":265,"y":1.003},{"s":"100r","x":270,"y":1.002},{"s":"100r","x":275,"y":1.002},{"s":"100r","x":280,"y":1.003},{"s":"100r","x":285,"y":1.004},{"s":"100r","x":290,"y":1.004},{"s":"100r","x":295,"y":1.004},{"s":"100r","x":300,"y":1.003},{"s":"100r","x":305,"y":1.003},{"s":"100r","x":310,"y":1.002},{"s":"100r","x":315,"y":1.001},{"s":"100r","x":320,"y":1.0},{"s":"100r","x":325,"y":0.999},{"s":"100r","x":330,"y":0.999},{"s":"100r","x":335,"y":0.998},{"s":"100r","x":340,"y":0.998},{"s":"100r","x":345,"y":0.997},{"s":"100r","x":350,"y":0.997},{"s":"100r","x":355,"y":0.996},{"s":"100r","x":360,"y":0.996},
{"s":"10r","x":0,"y":1.012},{"s":"10r","x":10,"y":1.017},{"s":"10r","x":20,"y":1.022},{"s":"10r","x":30,"y":1.027},{"s":"10r","x":40,"y":1.031},{"s":"10r","x":140,"y":1.008},{"s":"10r","x":150,"y":1.005},{"s":"10r","x":160,"y":1.002},{"s":"10r","x":170,"y":1.0},{"s":"10r","x":180,"y":0.999},{"s":"10r","x":190,"y":0.998},{"s":"10r","x":200,"y":0.997},{"s":"10r","x":210,"y":0.995},{"s":"10r","x":220,"y":0.993},{"s":"10r","x":230,"y":0.99},{"s":"10r","x":240,"y":0.987},{"s":"10r","x":250,"y":0.985},{"s":"10r","x":260,"y":0.984},{"s":"10r","x":270,"y":0.984},{"s":"10r","x":280,"y":0.986},{"s":"10r","x":290,"y":0.989},{"s":"10r","x":300,"y":0.993},{"s":"10r","x":310,"y":0.998},{"s":"10r","x":320,"y":1.003},{"s":"10r","x":330,"y":1.007},{"s":"10r","x":340,"y":1.011},{"s":"10r","x":350,"y":1.013},{"s":"10r","x":360,"y":1.013},
{"s":"1r","x":0,"y":1.027},{"s":"1r","x":5,"y":1.029},{"s":"1r","x":10,"y":1.031},{"s":"1r","x":15,"y":1.033},{"s":"1r","x":20,"y":1.035},{"s":"1r","x":25,"y":1.037},{"s":"1r","x":30,"y":1.038},{"s":"1r","x":35,"y":1.039},{"s":"1r","x":40,"y":1.04},{"s":"1r","x":140,"y":1.01},{"s":"1r","x":145,"y":1.008},{"s":"1r","x":150,"y":1.007},{"s":"1r","x":155,"y":1.005},{"s":"1r","x":160,"y":1.004},{"s":"1r","x":165,"y":1.003},{"s":"1r","x":170,"y":1.002},{"s":"1r","x":175,"y":1.002},{"s":"1r","x":180,"y":1.002},{"s":"1r","x":185,"y":1.001},{"s":"1r","x":190,"y":1.001},{"s":"1r","x":195,"y":1.0},{"s":"1r","x":200,"y":1.0},{"s":"1r","x":205,"y":0.999},{"s":"1r","x":210,"y":0.999},{"s":"1r","x":215,"y":0.998},{"s":"1r","x":220,"y":0.996},{"s":"1r","x":225,"y":0.994},{"s":"1r","x":230,"y":0.991},{"s":"1r","x":235,"y":0.988},{"s":"1r","x":240,"y":0.985},{"s":"1r","x":245,"y":0.982},{"s":"1r","x":250,"y":0.979},{"s":"1r","x":255,"y":0.977},{"s":"1r","x":260,"y":0.975},{"s":"1r","x":265,"y":0.974},{"s":"1r","x":270,"y":0.974},{"s":"1r","x":275,"y":0.974},{"s":"1r","x":280,"y":0.975},{"s":"1r","x":285,"y":0.977},{"s":"1r","x":290,"y":0.979},{"s":"1r","x":295,"y":0.982},{"s":"1r","x":300,"y":0.985},{"s":"1r","x":305,"y":0.988},{"s":"1r","x":310,"y":0.992},{"s":"1r","x":315,"y":0.996},{"s":"1r","x":320,"y":1.0},{"s":"1r","x":325,"y":1.004},{"s":"1r","x":330,"y":1.007},{"s":"1r","x":335,"y":1.011},{"s":"1r","x":340,"y":1.014},{"s":"1r","x":345,"y":1.017},{"s":"1r","x":350,"y":1.019},{"s":"1r","x":355,"y":1.021},{"s":"1r","x":360,"y":1.022}
],
"d2":[
{"s":"1000","x":90,"y":0.78},{"s":"1000","x":95,"y":0.78},{"s":"1000","x":100,"y":0.78},{"s":"1000","x":105,"y":0.78},{"s":"1000","x":110,"y":0.785},{"s":"1000","x":115,"y":0.79},{"s":"1000","x":120,"y":0.8},{"s":"1000","x":125,"y":0.84},{"s":"1000","x":130,"y":0.86},{"s":"1000","x":135,"y":0.8},{"s":"1000","x":140,"y":0.82},{"s":"1000","x":145,"y":0.96},{"s":"1000","x":150,"y":1.11},{"s":"1000","x":155,"y":1.26},{"s":"1000","x":160,"y":1.41},{"s":"1000","x":165,"y":1.56},{"s":"1000","x":170,"y":1.71},{"s":"1000","x":175,"y":1.84},{"s":"1000","x":180,"y":1.92},{"s":"1000","x":185,"y":1.92},{"s":"1000","x":190,"y":1.84},{"s":"1000","x":195,"y":1.72},{"s":"1000","x":205,"y":1.36},{"s":"1000","x":210,"y":1.27},{"s":"1000","x":215,"y":1.18},{"s":"1000","x":220,"y":1.1},{"s":"1000","x":225,"y":1.02},{"s":"1000","x":230,"y":0.95},{"s":"1000","x":235,"y":0.88},{"s":"1000","x":240,"y":0.82},{"s":"1000","x":245,"y":0.78},{"s":"1000","x":250,"y":0.76},{"s":"1000","x":255,"y":0.75},{"s":"1000","x":260,"y":0.745},{"s":"1000","x":265,"y":0.74},{"s":"1000","x":270,"y":0.74},
{"s":"100r","x":90,"y":0.73},{"s":"100r","x":95,"y":0.73},{"s":"100r","x":100,"y":0.73},{"s":"100r","x":105,"y":0.73},{"s":"100r","x":110,"y":0.73},{"s":"100r","x":115,"y":0.735},{"s":"100r","x":120,"y":0.74},{"s":"100r","x":125,"y":0.75},{"s":"100r","x":130,"y":0.76},{"s":"100r","x":135,"y":0.74},{"s":"100r","x":140,"y":0.78},{"s":"100r","x":145,"y":0.92},{"s":"100r","x":150,"y":1.07},{"s":"100r","x":155,"y":1.22},{"s":"100r","x":160,"y":1.37},{"s":"100r","x":165,"y":1.52},{"s":"100r","x":170,"y":1.67},{"s":"100r","x":175,"y":1.8},{"s":"100r","x":180,"y":1.87},{"s":"100r","x":185,"y":1.86},{"s":"100r","x":190,"y":1.78},{"s":"100r","x":195,"y":1.66},{"s":"100r","x":205,"y":1.25},{"s":"100r","x":210,"y":1.17},{"s":"100r","x":215,"y":1.08},{"s":"100r","x":220,"y":1.0},{"s":"100r","x":225,"y":0.92},{"s":"100r","x":230,"y":0.85},{"s":"100r","x":235,"y":0.8},{"s":"100r","x":240,"y":0.76},{"s":"100r","x":245,"y":0.74},{"s":"100r","x":250,"y":0.73},{"s":"100r","x":255,"y":0.725},{"s":"100r","x":260,"y":0.72},{"s":"100r","x":265,"y":0.72},{"s":"100r","x":270,"y":0.72},
{"s":"10r","x":90,"y":0.9},{"s":"10r","x":95,"y":0.9},{"s":"10r","x":100,"y":0.9},{"s":"10r","x":105,"y":0.9},{"s":"10r","x":110,"y":0.9},{"s":"10r","x":115,"y":0.9},{"s":"10r","x":120,"y":0.9},{"s":"10r","x":125,"y":0.905},{"s":"10r","x":130,"y":0.91},{"s":"10r","x":135,"y":0.915},{"s":"10r","x":140,"y":0.92},{"s":"10r","x":145,"y":0.945},{"s":"10r","x":150,"y":0.98},{"s":"10r","x":155,"y":1.03},{"s":"10r","x":160,"y":1.08},{"s":"10r","x":165,"y":1.13},{"s":"10r","x":170,"y":1.17},{"s":"10r","x":175,"y":1.19},{"s":"10r","x":180,"y":1.2},{"s":"10r","x":185,"y":1.2},{"s":"10r","x":190,"y":1.19},{"s":"10r","x":195,"y":1.17},{"s":"10r","x":200,"y":1.14},{"s":"10r","x":205,"y":1.1},{"s":"10r","x":210,"y":1.06},{"s":"10r","x":215,"y":1.02},{"s":"10r","x":220,"y":0.99},{"s":"10r","x":225,"y":0.96},{"s":"10r","x":230,"y":0.94},{"s":"10r","x":235,"y":0.92},{"s":"10r","x":240,"y":0.91},{"s":"10r","x":245,"y":0.905},{"s":"10r","x":250,"y":0.9},{"s":"10r","x":255,"y":0.9},{"s":"10r","x":260,"y":0.9},{"s":"10r","x":265,"y":0.9},{"s":"10r","x":270,"y":0.9},
{"s":"1r","x":90,"y":1.07},{"s":"1r","x":95,"y":1.065},{"s":"1r","x":100,"y":1.06},{"s":"1r","x":105,"y":1.055},{"s":"1r","x":110,"y":1.05},{"s":"1r","x":115,"y":1.05},{"s":"1r","x":120,"y":1.05},{"s":"1r","x":125,"y":1.045},{"s":"1r","x":130,"y":1.04},{"s":"1r","x":135,"y":0.95},{"s":"1r","x":140,"y":0.97},{"s":"1r","x":145,"y":0.985},{"s":"1r","x":150,"y":1.0},{"s":"1r","x":155,"y":1.01},{"s":"1r","x":160,"y":1.02},{"s":"1r","x":165,"y":1.025},{"s":"1r","x":170,"y":1.03},{"s":"1r","x":175,"y":1.03},{"s":"1r","x":180,"y":1.03},{"s":"1r","x":185,"y":1.03},{"s":"1r","x":190,"y":1.03},{"s":"1r","x":195,"y":1.025},{"s":"1r","x":200,"y":1.02},{"s":"1r","x":205,"y":1.015},{"s":"1r","x":210,"y":1.01},{"s":"1r","x":215,"y":1.005},{"s":"1r","x":220,"y":1.0},{"s":"1r","x":225,"y":0.99},{"s":"1r","x":230,"y":0.98},{"s":"1r","x":235,"y":0.97},{"s":"1r","x":240,"y":0.96},{"s":"1r","x":245,"y":0.955},{"s":"1r","x":250,"y":0.95},{"s":"1r","x":255,"y":0.96},{"s":"1r","x":260,"y":0.97},{"s":"1r","x":265,"y":0.985},{"s":"1r","x":270,"y":1.0}
]
},
"spacing":20,
"resolve":{"scale":{"color":"independent"},"legend":{"color":"independent"}},
"vconcat":[
{"spacing":44,"resolve":{"scale":{"color":"independent"},"legend":{"color":"independent"}},
 "hconcat":[
 {"title":{"text":"(a)","orient":"bottom","anchor":"middle","fontSize":22,"fontWeight":"normal","color":"#000000","offset":10,"dx":-10},
  "spacing":7,"resolve":{"scale":{"color":"independent"},"legend":{"color":"independent"}},
  "hconcat":[
  {"width":220,"height":136,"title":{"text":"Radial","fontSize":17,"fontWeight":"bold","color":"#000000","offset":11,"frame":"group"},
   "layer":[
    {"data":{"name":"grid"},"mark":{"type":"rule"},"encoding":{"x":{"field":"g","type":"quantitative"}}},
    {"data":{"name":"mx"},"mark":{"type":"tick","orient":"vertical","size":5,"yOffset":2.5},"encoding":{"x":{"field":"m","type":"quantitative"},"y":{"datum":0.9,"type":"quantitative"}}},
    {"data":{"name":"yr"},"mark":{"type":"tick","orient":"horizontal","size":5,"xOffset":-2.5},"encoding":{"y":{"field":"v","type":"quantitative"},"x":{"datum":0,"type":"quantitative"}}},
    {"data":{"name":"a1"},"mark":{"type":"circle","size":62,"opacity":1},
     "encoding":{
      "x":{"field":"x","type":"quantitative","scale":{"domain":[0,360],"nice":false},"axis":{"values":[0,90,180,270,360],"title":"ψ (°)","labelFlush":false,"titlePadding":8}},
      "y":{"field":"y","type":"quantitative","scale":{"domain":[0.9,1.1],"nice":false,"zero":false},"axis":{"values":[0.9,1,1.1],"format":".1f","title":"Normalized intensity (a.u)","titlePadding":13}},
      "color":{"field":"s","type":"nominal","scale":{"domain":["rest","1","10","100","1000"],"range":["#cfe5bf","#a2cf83","#80bb5a","#63a23f","#4f8a31"]},"legend":{"orient":"none","legendX":9,"legendY":108,"direction":"horizontal","title":null,"symbolSize":30,"columnPadding":8,"labelOffset":4}}}},
    {"data":{"values":[{"x":280,"y":1.074,"t":"31 mol% PbO"},{"x":280,"y":1.045,"t":"Ramp up"}]},"mark":{"type":"text","fontSize":15,"color":"#70ad47"},
     "encoding":{"x":{"field":"x","type":"quantitative"},"y":{"field":"y","type":"quantitative"},"text":{"field":"t"}}}
   ]},
  {"width":236,"height":136,"title":{"text":"Tangential","fontSize":17,"fontWeight":"bold","color":"#000000","offset":11,"frame":"group"},
   "layer":[
    {"data":{"name":"grid"},"mark":{"type":"rule"},"encoding":{"x":{"field":"g","type":"quantitative"}}},
    {"data":{"name":"mx"},"mark":{"type":"tick","orient":"vertical","size":5,"yOffset":2.5},"encoding":{"x":{"field":"m","type":"quantitative"},"y":{"datum":0.8,"type":"quantitative"}}},
    {"data":{"name":"ya"},"mark":{"type":"tick","orient":"horizontal","size":5,"xOffset":-2.5},"encoding":{"y":{"field":"v","type":"quantitative"},"x":{"datum":0,"type":"quantitative"}}},
    {"data":{"name":"a2"},"mark":{"type":"circle","size":64,"opacity":1},
     "encoding":{
      "x":{"field":"x","type":"quantitative","scale":{"domain":[0,360],"nice":false},"axis":{"values":[0,90,180,270,360],"title":"ψ  (°)","labelFlush":false,"titlePadding":8}},
      "y":{"field":"y","type":"quantitative","scale":{"domain":[0.8,1.2],"nice":false,"zero":false},"axis":{"values":[0.8,1,1.2],"format":".1f","title":null}},
      "color":{"field":"s","type":"nominal","scale":{"domain":["rest","1","10","100","1000"],"range":["#b5d9a0","#97c877","#7cb955","#63a23f","#4f8a31"]},"legend":{"orient":"none","legendX":9,"legendY":106,"direction":"horizontal","title":null,"symbolSize":50,"columnPadding":9,"labelOffset":4}}}},
    {"data":{"values":[{"x":279,"y":1.143,"t":"31 mol% PbO"},{"x":279,"y":1.084,"t":"Ramp up"}]},"mark":{"type":"text","fontSize":15,"color":"#70ad47"},
     "encoding":{"x":{"field":"x","type":"quantitative"},"y":{"field":"y","type":"quantitative"},"text":{"field":"t"}}}
   ]}
  ]},
 {"title":{"text":"(c)","orient":"bottom","anchor":"middle","fontSize":22,"fontWeight":"normal","color":"#000000","offset":10},
  "spacing":6,"resolve":{"scale":{"color":"independent"},"legend":{"color":"independent"}},
  "hconcat":[
  {"width":219,"height":136,"title":{"text":"Radial","fontSize":17,"fontWeight":"bold","color":"#000000","offset":11,"frame":"group"},
   "layer":[
    {"data":{"name":"grid"},"mark":{"type":"rule"},"encoding":{"x":{"field":"g","type":"quantitative"}}},
    {"data":{"name":"mx"},"mark":{"type":"tick","orient":"vertical","size":5,"yOffset":2.5},"encoding":{"x":{"field":"m","type":"quantitative"},"y":{"datum":0.9,"type":"quantitative"}}},
    {"data":{"name":"yr"},"mark":{"type":"tick","orient":"horizontal","size":5,"xOffset":-2.5},"encoding":{"y":{"field":"v","type":"quantitative"},"x":{"datum":0,"type":"quantitative"}}},
    {"data":{"name":"c1"},"mark":{"type":"circle","size":62,"opacity":1},
     "encoding":{
      "x":{"field":"x","type":"quantitative","scale":{"domain":[0,360],"nice":false},"axis":{"values":[0,90,180,270,360],"title":"ψ (°)","labelFlush":false,"titlePadding":6}},
      "y":{"field":"y","type":"quantitative","scale":{"domain":[0.9,1.1],"nice":false,"zero":false},"axis":{"values":[0.9,1,1.1],"format":".1f","title":"Normalized intensity (a.u)","titlePadding":26}},
      "color":{"field":"s","type":"nominal","scale":{"domain":["rest","1","10","100","1000"],"range":["#dbe9f6","#bcd6ee","#9dc3e6","#5b9bd5","#4472c4"]},"legend":{"orient":"none","legendX":7,"legendY":114,"direction":"horizontal","title":null,"symbolSize":40,"columnPadding":6,"labelOffset":4}}}},
    {"data":{"values":[{"x":273,"y":1.076,"t":"50 mol% PbO"},{"x":273,"y":1.048,"t":"Ramp up"}]},"mark":{"type":"text","fontSize":15,"color":"#7db1e2"},
     "encoding":{"x":{"field":"x","type":"quantitative"},"y":{"field":"y","type":"quantitative"},"text":{"field":"t"}}}
   ]},
  {"width":232,"height":136,"title":{"text":"Tangential","fontSize":17,"fontWeight":"bold","color":"#000000","offset":17,"frame":"group"},
   "layer":[
    {"data":{"name":"grid"},"mark":{"type":"rule"},"encoding":{"x":{"field":"g","type":"quantitative"}}},
    {"data":{"name":"mx"},"mark":{"type":"tick","orient":"vertical","size":5,"yOffset":2.5},"encoding":{"x":{"field":"m","type":"quantitative"},"y":{"datum":0.2,"type":"quantitative"}}},
    {"data":{"name":"yc"},"mark":{"type":"tick","orient":"horizontal","size":5,"xOffset":-2.5},"encoding":{"y":{"field":"v","type":"quantitative"},"x":{"datum":0,"type":"quantitative"}}},
    {"data":{"name":"c2"},"mark":{"type":"circle","size":64,"opacity":1},
     "encoding":{
      "x":{"field":"x","type":"quantitative","scale":{"domain":[0,360],"nice":false},"axis":{"values":[0,90,180,270,360],"title":"ψ (°)","labelFlush":false,"titlePadding":6}},
      "y":{"field":"y","type":"quantitative","scale":{"domain":[0.2,2.2],"nice":false,"zero":false},"axis":{"values":[0.2,1,1.8],"format":".1f","title":null}},
      "color":{"field":"s","type":"nominal","scale":{"domain":["rest","1","10","100","1000"],"range":["#dbe9f6","#bcd6ee","#9dc3e6","#5b9bd5","#4472c4"]},"legend":{"orient":"none","legendX":11,"legendY":111,"direction":"horizontal","title":null,"symbolSize":50,"columnPadding":10,"labelOffset":4}}}},
    {"data":{"values":[{"x":281,"y":1.89,"t":"50 mol% PbO"},{"x":281,"y":1.61,"t":"Ramp up"}]},"mark":{"type":"text","fontSize":15,"color":"#7db1e2"},
     "encoding":{"x":{"field":"x","type":"quantitative"},"y":{"field":"y","type":"quantitative"},"text":{"field":"t"}}}
   ]}
  ]}
 ]},
{"spacing":36,"resolve":{"scale":{"color":"independent"},"legend":{"color":"independent"}},
 "hconcat":[
 {"title":{"text":"(b)","orient":"bottom","anchor":"middle","fontSize":22,"fontWeight":"normal","color":"#000000","offset":13,"dx":-10},
  "spacing":11,"resolve":{"scale":{"color":"independent"},"legend":{"color":"independent"}},
  "hconcat":[
  {"width":220,"height":127,
   "layer":[
    {"data":{"name":"grid"},"mark":{"type":"rule"},"encoding":{"x":{"field":"g","type":"quantitative"}}},
    {"data":{"name":"mx"},"mark":{"type":"tick","orient":"vertical","size":5,"yOffset":2.5},"encoding":{"x":{"field":"m","type":"quantitative"},"y":{"datum":0.9,"type":"quantitative"}}},
    {"data":{"name":"yr"},"mark":{"type":"tick","orient":"horizontal","size":5,"xOffset":-2.5},"encoding":{"y":{"field":"v","type":"quantitative"},"x":{"datum":0,"type":"quantitative"}}},
    {"data":{"name":"b1"},"mark":{"type":"circle","size":62,"opacity":1},
     "encoding":{
      "x":{"field":"x","type":"quantitative","scale":{"domain":[0,360],"nice":false},"axis":{"values":[0,90,180,270,360],"title":"ψ (°)","labelFlush":false,"titlePadding":9}},
      "y":{"field":"y","type":"quantitative","scale":{"domain":[0.9,1.1],"nice":false,"zero":false},"axis":{"values":[0.9,1,1.1],"format":".1f","title":"Normalized intensity (a.u)","titlePadding":13}},
      "color":{"field":"s","type":"nominal","scale":{"domain":["1000","1r"],"range":["#70ad47","#3a5e25"]},"legend":{"orient":"none","legendX":67,"legendY":102,"direction":"horizontal","title":null,"symbolSize":45,"columnPadding":12,"labelOffset":3}}}},
    {"data":{"values":[{"x":268,"y":1.069,"t":"31 mol% PbO"},{"x":268,"y":1.04,"t":"Ramp down"}]},"mark":{"type":"text","fontSize":15,"color":"#70ad47"},
     "encoding":{"x":{"field":"x","type":"quantitative"},"y":{"field":"y","type":"quantitative"},"text":{"field":"t"}}}
   ]},
  {"width":239,"height":128,
   "layer":[
    {"data":{"name":"grid"},"mark":{"type":"rule"},"encoding":{"x":{"field":"g","type":"quantitative"}}},
    {"data":{"name":"mx"},"mark":{"type":"tick","orient":"vertical","size":5,"yOffset":2.5},"encoding":{"x":{"field":"m","type":"quantitative"},"y":{"datum":0.8,"type":"quantitative"}}},
    {"data":{"name":"ya"},"mark":{"type":"tick","orient":"horizontal","size":5,"xOffset":-2.5},"encoding":{"y":{"field":"v","type":"quantitative"},"x":{"datum":0,"type":"quantitative"}}},
    {"data":{"name":"b2"},"mark":{"type":"circle","size":64,"opacity":1},
     "encoding":{
      "x":{"field":"x","type":"quantitative","scale":{"domain":[0,360],"nice":false},"axis":{"values":[0,90,180,270,360],"title":"ψ (°)","labelFlush":false,"titlePadding":9}},
      "y":{"field":"y","type":"quantitative","scale":{"domain":[0.8,1.2],"nice":false,"zero":false},"axis":{"values":[0.8,1,1.2],"format":".1f","title":null}},
      "color":{"field":"s","type":"nominal","scale":{"domain":["1000","1r"],"range":["#70ad47","#3a5e25"]},"legend":{"orient":"none","legendX":72,"legendY":100,"direction":"horizontal","title":null,"symbolSize":45,"columnPadding":12,"labelOffset":3}}}},
    {"data":{"values":[{"x":279,"y":1.15,"t":"31 mol% PbO"},{"x":279,"y":1.09,"t":"Ramp down"}]},"mark":{"type":"text","fontSize":15,"color":"#70ad47"},
     "encoding":{"x":{"field":"x","type":"quantitative"},"y":{"field":"y","type":"quantitative"},"text":{"field":"t"}}}
   ]}
  ]},
 {"title":{"text":"(d)","orient":"bottom","anchor":"middle","fontSize":22,"fontWeight":"normal","color":"#000000","offset":13},
  "spacing":14,"resolve":{"scale":{"color":"independent"},"legend":{"color":"independent"}},
  "hconcat":[
  {"width":225,"height":128,
   "layer":[
    {"data":{"name":"grid"},"mark":{"type":"rule"},"encoding":{"x":{"field":"g","type":"quantitative"}}},
    {"data":{"name":"mx"},"mark":{"type":"tick","orient":"vertical","size":5,"yOffset":2.5},"encoding":{"x":{"field":"m","type":"quantitative"},"y":{"datum":0.9,"type":"quantitative"}}},
    {"data":{"name":"yr"},"mark":{"type":"tick","orient":"horizontal","size":5,"xOffset":-2.5},"encoding":{"y":{"field":"v","type":"quantitative"},"x":{"datum":0,"type":"quantitative"}}},
    {"data":{"name":"d1"},"mark":{"type":"circle","size":62,"opacity":1},
     "encoding":{
      "x":{"field":"x","type":"quantitative","scale":{"domain":[0,360],"nice":false},"axis":{"values":[0,90,180,270,360],"title":"ψ (°)","labelFlush":false,"titlePadding":7}},
      "y":{"field":"y","type":"quantitative","scale":{"domain":[0.9,1.1],"nice":false,"zero":false},"axis":{"values":[0.9,1,1.1],"format":".1f","title":"Normalized intensity (a.u)","titlePadding":26}},
      "color":{"field":"s","type":"nominal","scale":{"domain":["1000","100r","10r","1r"],"range":["#4a78c6","#5b9bd5","#2f5f8d","#14285f"]},"legend":{"orient":"none","legendX":17,"legendY":108,"direction":"horizontal","title":null,"symbolSize":45,"columnPadding":12,"labelOffset":3}}}},
    {"data":{"values":[{"x":270,"y":1.077,"t":"50 mol% PbO"},{"x":270,"y":1.047,"t":"Ramp down"}]},"mark":{"type":"text","fontSize":15,"color":"#7db1e2"},
     "encoding":{"x":{"field":"x","type":"quantitative"},"y":{"field":"y","type":"quantitative"},"text":{"field":"t"}}}
   ]},
  {"width":229,"height":126,
   "layer":[
    {"data":{"name":"grid"},"mark":{"type":"rule"},"encoding":{"x":{"field":"g","type":"quantitative"}}},
    {"data":{"name":"mx"},"mark":{"type":"tick","orient":"vertical","size":5,"yOffset":2.5},"encoding":{"x":{"field":"m","type":"quantitative"},"y":{"datum":0.2,"type":"quantitative"}}},
    {"data":{"name":"yc"},"mark":{"type":"tick","orient":"horizontal","size":5,"xOffset":-2.5},"encoding":{"y":{"field":"v","type":"quantitative"},"x":{"datum":0,"type":"quantitative"}}},
    {"data":{"name":"d2"},"mark":{"type":"circle","size":64,"opacity":1},
     "encoding":{
      "x":{"field":"x","type":"quantitative","scale":{"domain":[0,360],"nice":false},"axis":{"values":[0,90,180,270,360],"title":"ψ (°)","labelFlush":false,"titlePadding":7}},
      "y":{"field":"y","type":"quantitative","scale":{"domain":[0.2,2.2],"nice":false,"zero":false},"axis":{"values":[0.2,1,1.8],"format":".1f","title":null}},
      "color":{"field":"s","type":"nominal","scale":{"domain":["1000","100r","10r","1r"],"range":["#4a78c6","#5b9bd5","#2f5f8d","#14285f"]},"legend":{"orient":"none","legendX":11,"legendY":105,"direction":"horizontal","title":null,"symbolSize":45,"columnPadding":16,"labelOffset":3}}}},
    {"data":{"values":[{"x":283,"y":1.96,"t":"50 mol% PbO"},{"x":283,"y":1.66,"t":"Ramp down"}]},"mark":{"type":"text","fontSize":15,"color":"#7db1e2"},
     "encoding":{"x":{"field":"x","type":"quantitative"},"y":{"field":"y","type":"quantitative"},"text":{"field":"t"}}}
   ]}
  ]}
 ]}
]
}
